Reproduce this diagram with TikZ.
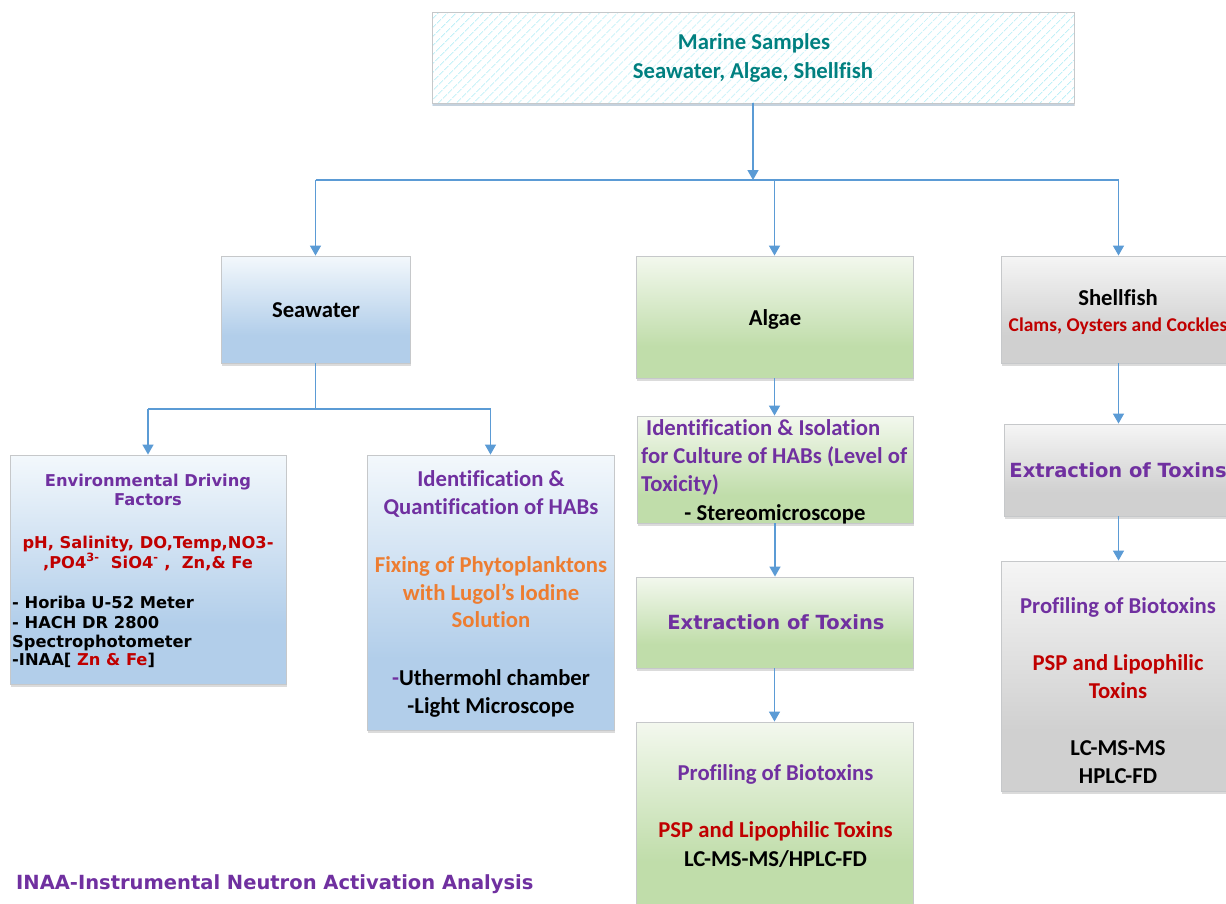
\documentclass[tikz,border=0pt]{standalone}
\usepackage{fontspec}
\setmainfont{Carlito}[Ligatures=CommonOff]
\newfontfamily\verd{DejaVu Sans}
\usetikzlibrary{arrows.meta,shadows,patterns.meta}

% palette
\definecolor{teal}{RGB}{0,128,128}
\definecolor{purp}{RGB}{112,48,160}
\definecolor{dred}{RGB}{192,0,0}
\definecolor{orng}{RGB}{237,125,49}
\definecolor{conn}{RGB}{91,155,213}
\definecolor{boxline}{RGB}{198,200,202}
\definecolor{hatch}{RGB}{188,240,248}
\definecolor{bluetop}{RGB}{243,248,252}
\definecolor{bluebot}{RGB}{178,206,234}
\definecolor{greentop}{RGB}{243,248,238}
\definecolor{greenbot}{RGB}{192,221,170}
\definecolor{greytop}{RGB}{245,245,245}
\definecolor{greybot}{RGB}{208,208,208}

% vertical fills: pale at the top, solid for the lower part
\pgfdeclareverticalshading{bluefill}{100bp}{color(0bp)=(bluebot); color(38bp)=(bluebot); color(75bp)=(bluetop); color(100bp)=(bluetop)}
\pgfdeclareverticalshading{greenfill}{100bp}{color(0bp)=(greenbot); color(38bp)=(greenbot); color(75bp)=(greentop); color(100bp)=(greentop)}
\pgfdeclareverticalshading{greyfill}{100bp}{color(0bp)=(greybot); color(38bp)=(greybot); color(75bp)=(greytop); color(100bp)=(greytop)}

\begin{document}
\begin{tikzpicture}[x=1pt,y=-1pt,
  box/.style={draw=boxline, line width=0.9pt, inner sep=0pt,
    drop shadow={shadow xshift=0.6pt, shadow yshift=-3pt, opacity=0.2, fill=black!70}},
  bluebox/.style={box, shading=bluefill},
  greenbox/.style={box, shading=greenfill},
  greybox/.style={box, shading=greyfill},
  ln/.style={inner sep=0pt, anchor=base},
  lnw/.style={inner sep=0pt, anchor=base west},
  cal/.style={font=\fontsize{22.7}{27}\selectfont\bfseries},
  calsm/.style={font=\fontsize{19.5}{23}\selectfont\bfseries},
  ver/.style={font=\verd\fontsize{16.3}{19}\selectfont\bfseries},
  verbig/.style={font=\verd\fontsize{19.5}{23}\selectfont\bfseries},
  link/.style={draw=conn, line width=1.5pt},
  arr/.style={link, -{Triangle[width=11pt,length=10pt]}}
]
\useasboundingbox (0,0) rectangle (1226,903);
\clip (0,0) rectangle (1226,903);
\fill[white] (0,0) rectangle (1226,903);

% ---- boxes ----
\node[box, minimum width=642pt, minimum height=91pt,
      drop shadow={shadow xshift=0pt, shadow yshift=-3pt, opacity=0.35, fill=conn!60},
      preaction={fill=white},
      pattern={Lines[angle=45,distance=6.5pt,line width=0.9pt]}, pattern color=hatch]
      (top) at (753,57.5) {};

\node[bluebox, minimum width=189pt, minimum height=107pt] (sea) at (315.5,309.5) {};
\node[greenbox, minimum width=277pt, minimum height=122pt] (alg) at (774.5,317) {};
\node[greybox, minimum width=235pt, minimum height=107pt] (shf) at (1118.5,309.5) {};

\node[bluebox, minimum width=276pt, minimum height=229pt] (env) at (148,569.5) {};
\node[bluebox, minimum width=247pt, minimum height=275pt] (idq) at (490.5,592.5) {};

\node[greenbox, minimum width=276pt, minimum height=107pt] (iso) at (775,469.5) {};
\node[greenbox, minimum width=277pt, minimum height=91pt] (ext) at (774.5,622.5) {};
\node[greenbox, minimum width=277pt, minimum height=188pt] (prf) at (774.5,816) {};

\node[greybox, minimum width=229pt, minimum height=92pt] (sext) at (1118.5,470) {};
\node[greybox, minimum width=235pt, minimum height=230pt] (sprf) at (1118.5,676) {};

% ---- connectors ----
\coordinate (jl) at (315.5,180);
\coordinate (jr) at (1118.5,180);
\coordinate (jsl) at (148,409);
\coordinate (jsr) at (490.5,409);

\draw[arr] (top.south) -- (top.south |- jl);
\draw[link] (jl) -- (jr);
\draw[arr] (jl) -- (sea.north);
\draw[arr] (alg.north |- jl) -- (alg.north);
\draw[arr] (jr) -- (shf.north);

\draw[link] (sea.south) -- (sea.south |- jsl);
\draw[link] (jsl) -- (jsr);
\draw[arr] (jsl) -- (env.north);
\draw[arr] (jsr) -- (idq.north);

\draw[arr] (alg.south) -- (alg.south |- iso.north);
\draw[arr] (iso.south) -- (iso.south |- ext.north);
\draw[arr] (ext.south) -- (prf.north);

\draw[arr] (shf.south) -- (sext.north);
\draw[arr] (sext.south) -- (sprf.north);

% ---- texts ----
\node[ln, cal, text=teal] (top1) at (754,49) {Marine Samples};
\node[ln, cal, text=teal] (top2) at (753,78) {Seawater, Algae, Shellfish};

\node[ln, cal] (sea1) at (316,317) {Seawater};
\node[ln, cal] (alg1) at (775,325) {Algae};
\node[ln, cal] (shf1) at (1118,305) {Shellfish};
\node[ln, calsm, text=dred] (shf2) at (1118,331) {Clams, Oysters and Cockles};

\node[ln, ver, text=purp] (env1) at (148,486) {Environmental Driving};
\node[ln, ver, text=purp] (env2) at (148,505) {Factors};
\node[ln, ver, text=dred] (env3) at (148,548) {pH, Salinity, DO,Temp,NO3-};
\node[ln, ver, text=dred] (env4) at (148,568) {,PO4\textsuperscript{3-}\ \ SiO4\textsuperscript{-} ,\ \ Zn,\& Fe};
\node[lnw, ver] (env5) at (12,608) {- Horiba U-52 Meter};
\node[lnw, ver] (env6) at (12,628) {- HACH DR 2800};
\node[lnw, ver] (env7) at (12,647) {Spectrophotometer};
\node[lnw, ver] (env8) at (12,665) {-INAA[ \textcolor{dred}{Zn \& Fe}]};

\node[ln, cal, text=purp] (idq1) at (491,486) {Identification \&};
\node[ln, cal, text=purp] (idq2) at (491,514) {Quantification of HABs};
\node[ln, cal, text=orng] (idq3) at (491,572) {Fixing of Phytoplanktons};
\node[ln, cal, text=orng] (idq4) at (491,600) {with Lugol’s Iodine};
\node[ln, cal, text=orng] (idq5) at (491,627) {Solution};
\node[ln, cal] (idq6) at (491,685) {\textcolor{purp}{-}Uthermohl chamber};
\node[ln, cal] (idq7) at (491,713) {-Light Microscope};

\node[lnw, cal, text=purp] (iso1) at (646,435) {Identification \& Isolation};
\node[lnw, cal, text=purp] (iso2) at (641,463) {for Culture of HABs (Level of};
\node[lnw, cal, text=purp] (iso3) at (641,491) {Toxicity)};
\node[ln, cal] (iso4) at (775,520) {- Stereomicroscope};

\node[ln, verbig, text=purp] (ext1) at (776,629) {Extraction of Toxins};

\node[ln, cal, text=purp] (prf1) at (775.5,780) {Profiling of Biotoxins};
\node[ln, cal, text=dred] (prf2) at (775.5,837) {PSP and Lipophilic Toxins};
\node[ln, cal] (prf3) at (775.5,866) {LC-MS-MS/HPLC-FD};

\node[ln, verbig, text=purp] (sext1) at (1118,477) {Extraction of Toxins};

\node[ln, cal, text=purp] (sprf1) at (1118,613) {Profiling of Biotoxins};
\node[ln, cal, text=dred] (sprf2) at (1118,670) {PSP and Lipophilic};
\node[ln, cal, text=dred] (sprf3) at (1118,698) {Toxins};
\node[ln, cal] (sprf4) at (1118,755) {LC-MS-MS};
\node[ln, cal] (sprf5) at (1118,783) {HPLC-FD};

\node[lnw, verbig, text=purp] (note) at (16,889)
  {INAA-Instrumental Neutron Activation Analysis};
\end{tikzpicture}
\end{document}
